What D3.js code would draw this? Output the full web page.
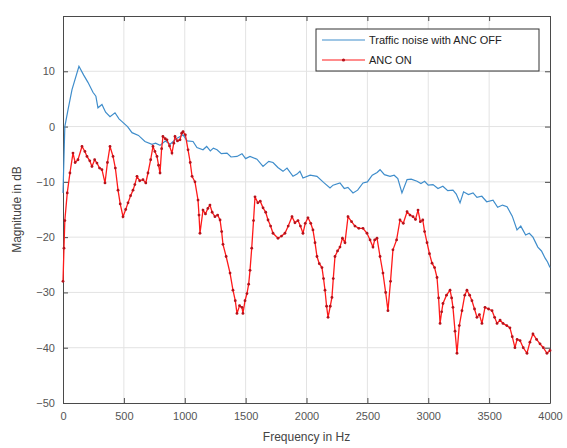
<!DOCTYPE html>
<html>
<head>
<meta charset="utf-8">
<script src="https://cdn.jsdelivr.net/npm/d3@7"></script>
<style>
  body { margin: 0; background: #fff; }
  svg { font-family: "Liberation Sans", Arial, sans-serif; }
</style>
</head>
<body>
<svg id="chart" width="567" height="448"></svg>
<script>
// ANC OFF (blue) - frequency in Hz / magnitude in dB
var offFreq = [0, 15, 41, 74, 131, 170, 205, 246, 270, 287, 320, 350, 386, 427, 460, 485, 530, 567, 620, 673,
  731, 760, 797, 840, 880, 930, 986, 1020, 1068, 1100, 1150, 1180, 1210, 1235, 1265, 1300, 1347, 1380, 1429, 1470,
  1500, 1536, 1593, 1643, 1690, 1725, 1765, 1807, 1840, 1889, 1922, 1946, 1971, 2030, 2086, 2140, 2193, 2218, 2275, 2310,
  2340, 2382, 2420, 2464, 2500, 2540, 2580, 2604, 2640, 2686, 2720, 2750, 2784, 2826, 2860, 2908, 2940, 2970, 3000, 3039,
  3080, 3120, 3160, 3203, 3230, 3261, 3290, 3330, 3368, 3400, 3440, 3480, 3532, 3570, 3610, 3647, 3690, 3729, 3760, 3800,
  3830, 3860, 3900, 3930, 3960, 3980, 4000];
var offMag = [-12, 0, 3, 6.7, 10.9, 9.3, 8, 6.2, 5.5, 3.4, 4, 2.6, 1.8, 2.5, 1.4, 0.9, 0, -1.1, -1.6, -2.7,
  -3.2, -3, -3.4, -2.6, -3.2, -2.2, -1.5, -2.6, -2.7, -3.8, -4.2, -3.6, -4.4, -3.9, -4.2, -4.9, -4.8, -5.5, -5.4, -4.9,
  -5.8, -5.4, -5.9, -7.2, -6.3, -6.5, -7.4, -8.1, -7.5, -9, -8.6, -8.1, -9.3, -8.8, -9, -10.1, -11.1, -10.6, -10.2, -11.2,
  -11, -12, -11.5, -10.2, -10, -8.8, -8.3, -7.8, -8.7, -9, -8.8, -9.4, -12, -9.6, -9.5, -9.9, -10.3, -9.9, -10.6, -10.5,
  -11.2, -10.8, -11.6, -11.5, -12.2, -13.8, -11.8, -12.3, -12, -12.8, -12.6, -13.6, -13.3, -14.6, -14.2, -14.5, -16.2, -18.7, -18, -19.6,
  -19.3, -20, -21.8, -22.5, -23.8, -24.5, -25.5];

// ANC ON (red)
var onFreq = [0, 8, 15, 35, 57, 82, 100, 123, 156, 180, 197, 220, 238, 260, 279, 300, 320, 345, 365, 386,
  411, 430, 452, 470, 493, 515, 534, 555, 575, 590, 608, 630, 657, 680, 698, 720, 739, 755, 772, 785,
  797, 810, 821, 840, 854, 875, 895, 910, 920, 940, 961, 975, 986, 1005, 1027, 1045, 1060, 1084, 1109, 1117,
  1125, 1150, 1170, 1190, 1207, 1225, 1248, 1270, 1290, 1303, 1314, 1340, 1372, 1396, 1415, 1429, 1450, 1470, 1478, 1495,
  1511, 1525, 1536, 1550, 1565, 1577, 1600, 1620, 1643, 1665, 1684, 1705, 1725, 1766, 1795, 1823, 1850, 1881, 1905, 1930,
  1950, 1971, 1990, 2012, 2035, 2053, 2070, 2086, 2105, 2127, 2140, 2152, 2165, 2177, 2195, 2209, 2220, 2234, 2255, 2275,
  2295, 2316, 2341, 2370, 2398, 2430, 2464, 2497, 2522, 2546, 2560, 2579, 2604, 2628, 2650, 2669, 2690, 2710, 2740, 2768,
  2795, 2826, 2850, 2875, 2895, 2916, 2935, 2955, 2970, 2990, 3010, 3031, 3052, 3072, 3085, 3097, 3110, 3121, 3150, 3179,
  3192, 3203, 3220, 3236, 3255, 3277, 3300, 3318, 3340, 3359, 3380, 3400, 3420, 3441, 3466, 3495, 3524, 3545, 3565, 3590,
  3614, 3645, 3671, 3690, 3712, 3730, 3754, 3780, 3811, 3835, 3860, 3890, 3918, 3945, 3975, 4000];
var onMag = [-28, -22, -17, -12, -8.4, -4.8, -6.5, -6, -3.6, -4.5, -5.4, -6.2, -7.2, -6, -6.6, -7.5, -7.8, -10.2, -6.5, -3.6,
  -5.4, -7.5, -11.5, -14, -16.3, -15, -13.8, -12.5, -11.5, -10.5, -9, -9.8, -9.6, -10.2, -8.4, -6, -3.6, -4.5, -5.4, -7,
  -8.4, -4, -1.8, -2.2, -2.4, -3.5, -4.8, -3, -1.8, -2.6, -2.4, -1.2, -0.9, -1.5, -4.2, -6.5, -9, -10, -13.3, -16,
  -19.3, -15.1, -15.8, -14.8, -14.2, -15.5, -16.3, -16, -16.9, -19, -21.3, -23.5, -26.5, -29.6, -31.5, -33.8, -32.4, -32.7, -33.8, -31.5,
  -30.2, -28.5, -26, -22, -17, -12.7, -13.8, -13.5, -14.7, -15.5, -16.9, -18, -19.3, -20.2, -19.8, -19.3, -18, -16.3, -17.4, -17,
  -18, -19.3, -17.5, -16.5, -17.5, -18.7, -21, -23.5, -24.8, -25.5, -27.5, -29.6, -32.5, -34.5, -32.5, -30.9, -27.5, -23.5, -22.5, -21.8,
  -20.2, -21, -16.3, -17.2, -18, -18.4, -18.4, -19.3, -20.5, -21.8, -20.5, -20.2, -23.5, -26.5, -30, -33.3, -28, -22.3, -20.5, -16.9,
  -17.5, -15.4, -16, -16.3, -16.8, -15.1, -17.2, -16.9, -19, -21, -23, -24.7, -25.5, -27.3, -31, -35.6, -33.5, -32, -30.5, -29.6,
  -31, -32.7, -37, -41, -36, -33.3, -30.5, -29.6, -30.5, -31.5, -33, -34.5, -34, -35.6, -32.7, -33, -33.3, -34.5, -35.6, -35,
  -35.6, -36, -36.4, -38, -40, -38.5, -38.7, -40, -41, -39, -37.5, -38.5, -39.3, -40, -41, -40.5];

var xTicks = [0, 500, 1000, 1500, 2000, 2500, 3000, 3500, 4000];
var yTicks = [-50, -40, -30, -20, -10, 0, 10];
var seriesNames = ["Traffic noise with ANC OFF", "ANC ON"];

var svg = d3.select("#chart");
var plotLeft = 63, plotRight = 550, plotTop = 16, plotBottom = 403;

var x = d3.scaleLinear().domain([0, 4000]).range([plotLeft, plotRight]);
var y = d3.scaleLinear().domain([-50, 20]).range([plotBottom, plotTop]);

var offData = offFreq.map((f, i) => ({ f: f, m: offMag[i] }));
var onData = onFreq.map((f, i) => ({ f: f, m: onMag[i] }));

// grid
svg.append("g")
    .selectAll("line")
    .data(xTicks.slice(1, -1))
    .enter().append("line")
    .attr("x1", d => x(d)).attr("x2", d => x(d))
    .attr("y1", plotTop).attr("y2", plotBottom)
    .attr("stroke", "#e3e3e3").attr("stroke-width", 1);
svg.append("g")
    .selectAll("line")
    .data(yTicks.slice(1))
    .enter().append("line")
    .attr("x1", plotLeft).attr("x2", plotRight)
    .attr("y1", d => y(d)).attr("y2", d => y(d))
    .attr("stroke", "#e3e3e3").attr("stroke-width", 1);

// axes (ticks pointing inward, MATLAB box style)
var axColor = "#4a4a4a";
function styleAxis(g) {
  g.select(".domain").attr("stroke", axColor);
  g.selectAll(".tick line").attr("stroke", axColor);
  g.selectAll(".tick text").attr("fill", "#555").style("font-size", "11px");
}
svg.append("g")
    .attr("transform", `translate(0,${plotBottom})`)
    .call(d3.axisBottom(x).tickValues(xTicks).tickFormat(d3.format("d")).tickSizeInner(-5).tickSizeOuter(0).tickPadding(9))
    .call(styleAxis);
svg.append("g")
    .attr("transform", `translate(${plotLeft},0)`)
    .call(d3.axisLeft(y).tickValues(yTicks).tickSizeInner(-5).tickSizeOuter(0).tickPadding(8))
    .call(styleAxis);
svg.append("g")
    .attr("transform", `translate(0,${plotTop})`)
    .call(d3.axisTop(x).tickValues(xTicks).tickSizeInner(-5).tickSizeOuter(0).tickFormat(""))
    .call(styleAxis);
svg.append("g")
    .attr("transform", `translate(${plotRight},0)`)
    .call(d3.axisRight(y).tickValues(yTicks.concat([20])).tickSizeInner(-5).tickSizeOuter(0).tickFormat(""))
    .call(styleAxis);

// lines
var line = d3.line()
    .x(d => x(d.f))
    .y(d => y(d.m));

svg.append("path")
    .datum(offData)
    .attr("fill", "none")
    .attr("stroke", "#3f8dcb")
    .attr("stroke-width", 1.2)
    .attr("d", line);

svg.append("path")
    .datum(onData)
    .attr("fill", "none")
    .attr("stroke", "#ff1a1a")
    .attr("stroke-width", 1.3)
    .attr("d", line);

svg.append("g")
    .selectAll("circle")
    .data(onData)
    .enter().append("circle")
    .attr("cx", d => x(d.f))
    .attr("cy", d => y(d.m))
    .attr("r", 1.4)
    .attr("fill", "#b5121b");

// axis labels
svg.append("text")
    .attr("x", (plotLeft + plotRight) / 2)
    .attr("y", 441)
    .attr("text-anchor", "middle")
    .attr("fill", "#444")
    .style("font-size", "12px")
    .text("Frequency in Hz");

svg.append("text")
    .attr("transform", `translate(21,${(plotTop + plotBottom) / 2}) rotate(-90)`)
    .attr("text-anchor", "middle")
    .attr("fill", "#444")
    .style("font-size", "12px")
    .text("Magnitude in dB");

// legend
var lg = svg.append("g");
lg.append("rect")
    .attr("x", 316).attr("y", 29)
    .attr("width", 223).attr("height", 42)
    .attr("fill", "#fff")
    .attr("stroke", "#333").attr("stroke-width", 1);
var legendColors = ["#3f8dcb", "#ff1a1a"];
seriesNames.forEach(function(name, i) {
  var ly = 40 + i * 20;
  lg.append("line")
      .attr("x1", 322).attr("x2", 365)
      .attr("y1", ly).attr("y2", ly)
      .attr("stroke", legendColors[i]).attr("stroke-width", 1.2);
  if (i == 1) {
    lg.append("circle").attr("cx", 343.5).attr("cy", ly).attr("r", 1.6).attr("fill", "#b5121b");
  }
  lg.append("text")
      .attr("x", 369).attr("y", ly + 4)
      .attr("fill", "#222")
      .style("font-size", "11px")
      .text(name);
});
</script>
</body>
</html>
